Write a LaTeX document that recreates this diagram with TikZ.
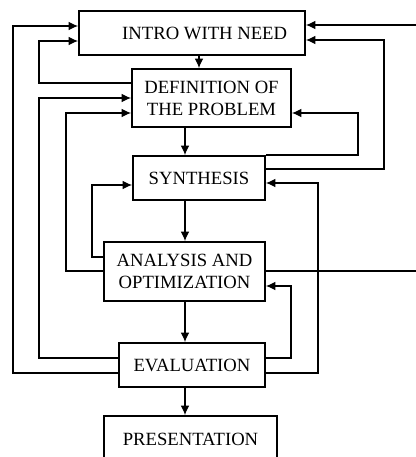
\documentclass[tikz,border=0pt]{standalone}
\usepackage{fontspec}
\setmainfont{Liberation Serif}
\usetikzlibrary{arrows.meta}

\tikzset{
  stage/.style={draw, line width=1.5pt, inner sep=0pt, align=center,
    font=\fontsize{14}{16.5}\selectfont},
  flow/.style={line width=0.8pt, -{Latex[length=7pt,width=6.5pt]}},
}

\begin{document}
\begin{tikzpicture}[x=0.75pt,y=-0.75pt]
    \clip (0,0) rectangle (416,457);

    \node[stage, minimum width=169.5pt, minimum height=33pt] (intro) at (192,33) {\hspace*{19pt}INTRO WITH NEED};
    \node[stage, minimum width=119.25pt, minimum height=43.5pt] (def) at (211.5,98) {DEFINITION OF\\THE PROBLEM};
    \node[stage, minimum width=99pt, minimum height=33pt] (syn) at (199,178) {SYNTHESIS};
    \node[stage, minimum width=120.75pt, minimum height=44.25pt] (ana) at (184.5,271.5) {ANALYSIS AND\\OPTIMIZATION};
    \node[stage, minimum width=109.5pt, minimum height=33pt] (eval) at (192,365) {EVALUATION};
    \node[stage, minimum width=129.75pt, minimum height=34.5pt] (pres) at (190.5,439) {PRESENTATION};

    % main chain
    \draw[flow] ([xshift=5.25pt]intro.south) -- ([xshift=5.25pt]intro.south |- def.north);
    \draw[flow] (185,0 |- def.south) -- (185,0 |- syn.north);
    \draw[flow] (185,0 |- syn.south) -- (185,0 |- ana.north);
    \draw[flow] (185,0 |- ana.south) -- (185,0 |- eval.north);
    \draw[flow] (185,0 |- eval.south) -- (185,0 |- pres.north);

    % feedback on the left
    \draw[flow] (eval.west |- 0,373) -| (13,26) -- (intro.west |- 0,26);
    \draw[flow] (def.west |- 0,83) -| (39,41) -- (intro.west |- 0,41);
    \draw[flow] (eval.west |- 0,358) -| (39,98) -- (def.west |- 0,98);
    \draw[flow] (ana.west |- 0,271) -| (66,113) -- (def.west |- 0,113);
    \draw[flow] (ana.west |- 0,257) -| (92,185) -- (syn.west |- 0,185);

    % feedback on the right
    \draw[flow] (ana.east |- 0,271) -| (430,25) -- (intro.east |- 0,25);
    \draw[flow] (syn.east |- 0,169) -| (384,40) -- (intro.east |- 0,40);
    \draw[flow] (syn.north east) -| (358,113) -- (def.east |- 0,113);
    \draw[flow] (eval.east |- 0,373) -| (318,183) -- (syn.east |- 0,183);
    \draw[flow] (eval.east |- 0,358) -| (291,286) -- (ana.east |- 0,286);
  \end{tikzpicture}
\end{document}
